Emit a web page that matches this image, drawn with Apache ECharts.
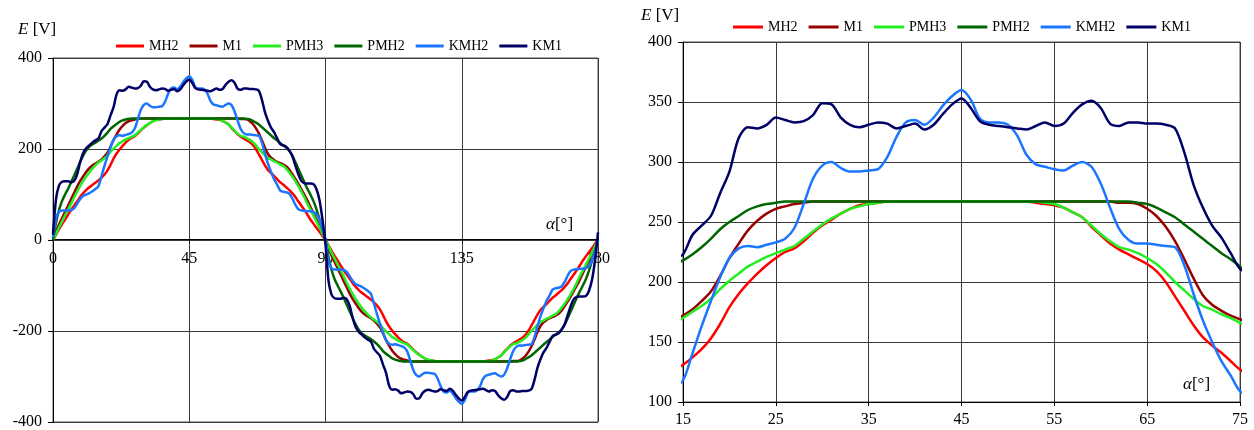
<!DOCTYPE html>
<html>
<head>
<meta charset="utf-8">
<title>E(alpha)</title>
<script src="https://cdn.jsdelivr.net/npm/echarts@6/dist/echarts.min.js"></script>
<style>
    html, body { margin: 0; padding: 0; background: #fff; }
    #chart { width: 1254px; height: 430px; }
</style>
</head>
<body>
<div id="chart"></div>
<script>
// angle grid, one sample per degree (0..180)
const alpha = Array.from({ length: 181 }, (_, i) => i);
const names = ['MH2', 'M1', 'PMH3', 'PMH2', 'KMH2', 'KM1'];

// E [V], index = angle in degrees
const mh2 = [
    0,12,24,35,45,56,66,76,85,95,
    103,110,116,121,126,131,137,144,153,165,
    179,190,199,207,214,220,225,228,234,241,
    247,252,257,261,264,265,266,267,267,267,
    267,267,267,267,267,267,267,267,267,267,
    267,267,267,266,265,264,262,258,254,246,
    239,232,227,223,219,215,209,200,188,176,
    164,154,147,141,134,127,122,116,110,103,
    95,85,76,66,56,45,36,27,18,9,
    0,-12,-24,-35,-45,-56,-66,-76,-85,-95,
    -103,-110,-116,-121,-126,-131,-137,-144,-153,-165,
    -179,-190,-199,-207,-214,-220,-225,-228,-234,-241,
    -247,-252,-257,-261,-264,-265,-266,-267,-267,-267,
    -267,-267,-267,-267,-267,-267,-267,-267,-267,-267,
    -267,-267,-267,-266,-265,-264,-262,-258,-254,-246,
    -239,-232,-227,-223,-219,-215,-209,-200,-188,-176,
    -164,-154,-147,-141,-134,-127,-122,-116,-110,-103,
    -95,-85,-76,-66,-56,-45,-36,-27,-18,-9,
    0
];
const m1 = [
    0,18,34,48,62,76,90,104,118,130,
    140,150,158,164,168,172,177,184,192,205,
    220,232,243,251,257,261,263,265,266,267,
    267,267,267,267,267,267,267,267,267,267,
    267,267,267,267,267,267,267,267,267,267,
    267,267,267,267,267,267,267,267,267,267,
    267,267,266,266,265,261,255,246,234,219,
    203,189,181,176,172,169,166,162,155,145,
    135,124,112,100,87,73,59,45,30,15,
    0,-18,-34,-48,-62,-76,-90,-104,-118,-130,
    -140,-150,-158,-164,-168,-172,-177,-184,-192,-205,
    -220,-232,-243,-251,-257,-261,-263,-265,-266,-267,
    -267,-267,-267,-267,-267,-267,-267,-267,-267,-267,
    -267,-267,-267,-267,-267,-267,-267,-267,-267,-267,
    -267,-267,-267,-267,-267,-267,-267,-267,-267,-267,
    -267,-267,-266,-266,-265,-261,-255,-246,-234,-219,
    -203,-189,-181,-176,-172,-169,-166,-162,-155,-145,
    -135,-124,-112,-100,-87,-73,-59,-45,-30,-15,
    0
];
const pmh3 = [
    0,14,28,41,54,67,80,94,107,119,
    130,140,149,157,164,170,175,180,186,194,
    201,207,213,217,221,224,227,230,236,242,
    248,253,257,261,263,265,266,267,267,267,
    267,267,267,267,267,267,267,267,267,267,
    267,267,267,267,266,265,262,258,254,247,
    240,234,229,227,224,220,215,208,200,193,
    186,180,177,173,170,166,163,157,149,140,
    130,119,107,94,80,67,54,41,28,14,
    0,-14,-28,-41,-54,-67,-80,-94,-107,-119,
    -130,-140,-149,-157,-164,-170,-175,-180,-186,-194,
    -201,-207,-213,-217,-221,-224,-227,-230,-236,-242,
    -248,-253,-257,-261,-263,-265,-266,-267,-267,-267,
    -267,-267,-267,-267,-267,-267,-267,-267,-267,-267,
    -267,-267,-267,-267,-266,-265,-262,-258,-254,-247,
    -240,-234,-229,-227,-224,-220,-215,-208,-200,-193,
    -186,-180,-177,-173,-170,-166,-163,-157,-149,-140,
    -130,-119,-107,-94,-80,-67,-54,-41,-28,-14,
    0
];
const pmh2 = [
    0,38,66,86,100,113,127,142,157,172,
    186,197,205,210,214,218,223,229,236,244,
    250,255,260,263,265,266,267,267,267,267,
    267,267,267,267,267,267,267,267,267,267,
    267,267,267,267,267,267,267,267,267,267,
    267,267,267,267,267,267,267,267,267,267,
    267,267,267,267,266,265,262,258,254,248,
    242,236,230,224,219,213,208,203,196,186,
    172,157,142,127,113,100,86,68,46,23,
    0,-38,-66,-86,-100,-113,-127,-142,-157,-172,
    -186,-197,-205,-210,-214,-218,-223,-229,-236,-244,
    -250,-255,-260,-263,-265,-266,-267,-267,-267,-267,
    -267,-267,-267,-267,-267,-267,-267,-267,-267,-267,
    -267,-267,-267,-267,-267,-267,-267,-267,-267,-267,
    -267,-267,-267,-267,-267,-267,-267,-267,-267,-267,
    -267,-267,-267,-267,-266,-265,-262,-258,-254,-248,
    -242,-236,-230,-224,-219,-213,-208,-203,-196,-186,
    -172,-157,-142,-127,-113,-100,-86,-68,-46,-23,
    0
];
const kmh2 = [
    5,48,62,65,65,65,66,70,80,90,
    97,100,103,107,112,118,140,163,184,204,
    220,228,230,229,231,233,236,245,265,286,
    297,300,295,292,292,293,294,304,321,333,
    335,331,337,347,355,360,352,336,333,333,
    331,322,306,298,296,294,293,297,300,296,
    282,262,244,235,232,232,231,230,229,214,
    190,168,150,134,122,109,106,105,102,92,
    78,68,65,64,63,63,62,57,45,25,
    0,-48,-62,-65,-65,-65,-66,-70,-80,-90,
    -97,-100,-103,-107,-112,-118,-140,-163,-184,-204,
    -220,-228,-230,-229,-231,-233,-236,-245,-265,-286,
    -297,-300,-295,-292,-292,-293,-294,-304,-321,-333,
    -335,-331,-337,-347,-355,-360,-352,-336,-333,-333,
    -331,-322,-306,-298,-296,-294,-293,-297,-300,-296,
    -282,-262,-244,-235,-232,-232,-231,-230,-229,-214,
    -190,-168,-150,-134,-122,-109,-106,-105,-102,-92,
    -78,-68,-65,-64,-63,-63,-62,-57,-45,-25,
    0
];
const km1 = [
    12,90,120,128,129,129,127,130,145,172,
    192,202,208,214,219,223,239,247,255,274,
    292,320,329,328,331,337,335,333,334,339,
    349,348,337,331,329,331,333,332,328,330,
    332,327,331,340,348,353,345,334,331,330,
    329,328,327,330,333,330,332,341,348,351,
    345,332,330,333,333,332,332,331,328,308,
    281,262,247,237,224,211,208,205,197,185,
    165,145,130,125,124,124,123,112,88,45,
    -10,-90,-120,-128,-129,-129,-127,-130,-145,-172,
    -192,-202,-208,-214,-219,-223,-239,-247,-255,-274,
    -292,-320,-329,-328,-331,-337,-335,-333,-334,-339,
    -349,-348,-337,-331,-329,-331,-333,-332,-328,-330,
    -332,-327,-331,-340,-348,-353,-345,-334,-331,-330,
    -329,-328,-327,-330,-333,-330,-332,-341,-348,-351,
    -345,-332,-330,-333,-333,-332,-332,-331,-328,-308,
    -281,-262,-247,-237,-224,-211,-208,-205,-197,-185,
    -165,-145,-130,-125,-124,-124,-123,-112,-88,-45,
    17
];
const values = [mh2, m1, pmh3, pmh2, kmh2, km1];
const colors = ['#ff0000', '#990000', '#22ee22', '#006600', '#1a75ff', '#000066'];

const FONT = "'Liberation Serif', 'Times New Roman', serif";
const gridColor = '#3a3a3a';

function makeSeries(idx) {
    return names.map((name, k) => ({
        name: name,
        type: 'line',
        xAxisIndex: idx,
        yAxisIndex: idx,
        data: alpha.map((a, i) => [a, values[k][i]]),
        symbol: 'none',
        smooth: 0.3,
        lineStyle: { width: 2.5, color: colors[k] },
        itemStyle: { color: colors[k] }
    }));
}

// offset pulls the left panel's x axis (line, ticks and labels) up to E = 0
function xAxisOf(idx, min, max, interval, margin, offset) {
    return {
        type: 'value', gridIndex: idx, min: min, max: max, interval: interval,
        offset: offset,
        axisLine: { show: true, onZero: false, lineStyle: { color: '#000', width: 1 } },
        axisTick: { show: true, length: 4, lineStyle: { color: '#000' } },
        axisLabel: { color: '#000', fontFamily: FONT, fontSize: 16, margin: margin },
        splitLine: { show: true, lineStyle: { color: gridColor, width: 1 } }
    };
}
function yAxisOf(idx, min, max, interval) {
    return {
        type: 'value', gridIndex: idx, min: min, max: max, interval: interval,
        axisLine: { show: true, onZero: false, lineStyle: { color: '#000', width: 1 } },
        axisTick: { show: true, length: 5, lineStyle: { color: '#000' } },
        axisLabel: { color: '#000', fontFamily: FONT, fontSize: 16, margin: 11 },
        splitLine: { show: true, lineStyle: { color: gridColor, width: 1 } }
    };
}
function legendOf(left, top, w, gap) {
    return {
        left: left, top: top, padding: 0,
        icon: 'rect', itemWidth: w, itemHeight: 3, itemGap: gap,
        data: names,
        textStyle: { color: '#000', fontFamily: FONT, fontSize: 14 }
    };
}
function label(left, top, txt) {
    return {
        type: 'text', left: left, top: top,
        style: {
            text: txt, fill: '#000', fontFamily: FONT, fontSize: 17,
            rich: {
                i: { fontStyle: 'italic', fontFamily: FONT, fontSize: 17, fill: '#000' },
                n: { fontFamily: FONT, fontSize: 17, fill: '#000' }
            }
        }
    };
}

const chart = echarts.init(document.getElementById('chart'));
chart.setOption({
    animation: false,
    backgroundColor: '#fff',
    textStyle: { fontFamily: FONT, color: '#000' },
    grid: [
        { left: 53, top: 58, width: 545, height: 366, show: true, borderColor: '#555', borderWidth: 1 },
        { left: 683, top: 42, width: 557, height: 360, show: true, borderColor: '#555', borderWidth: 1 }
    ],
    xAxis: [xAxisOf(0, 0, 180, 45, 12, -183), xAxisOf(1, 15, 75, 10, 10, 0)],
    yAxis: [yAxisOf(0, -400, 400, 200), yAxisOf(1, 100, 400, 50)],
    legend: [legendOf(116, 39, 28, 11), legendOf(733, 20, 30, 11)],
    graphic: [
        label(18, 21, '{i|E}{n| [V]}'),
        label(641, 7, '{i|E}{n| [V]}'),
        label(546, 216, '{i|α}{n|[°]}'),
        label(1183, 376, '{i|α}{n|[°]}')
    ],
    series: makeSeries(0).concat(makeSeries(1))
});
</script>
</body>
</html>
